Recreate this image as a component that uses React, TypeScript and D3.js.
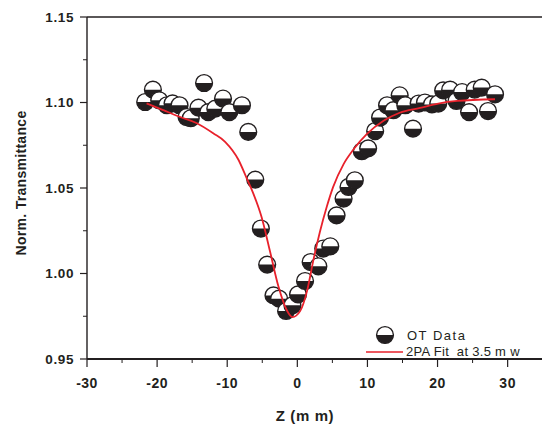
import React from 'react';
import * as d3 from 'd3';

// z position (mm) of each measured point
const zData = [
  -21.7, -20.6, -19.7, -18.6, -17.8, -16.8, -15.8, -15.2, -14.1, -13.3,
  -12.7, -11.7, -10.6, -9.7, -7.9, -7.0, -6.0, -5.2, -4.3, -3.4,
  -2.6, -1.6, -0.7, 0.1, 1.1, 1.9, 3.0, 3.7, 4.7, 5.6,
  6.6, 7.3, 8.2, 9.2, 10.1, 11.1, 11.8, 12.8, 13.7, 14.6,
  15.4, 16.5, 17.3, 18.2, 19.2, 20.1, 20.8, 21.8, 22.7, 23.5,
  24.5, 25.3, 26.3, 27.2, 28.2,
];
// normalized transmittance of each point
const tData = [
  1.1003, 1.1075, 1.1013, 1.0984, 1.0995, 1.0984, 1.0915, 1.0908, 1.097, 1.1114,
  1.0944, 1.0964, 1.1023, 1.0944, 1.0984, 1.0828, 1.0549, 1.0263, 1.0052, 0.9872,
  0.9853, 0.9781, 0.9814, 0.9878, 0.9956, 1.0067, 1.0042, 1.0146, 1.0159, 1.034,
  1.0438, 1.0506, 1.0545, 1.0715, 1.0732, 1.0833, 1.0912, 1.0984, 1.0955, 1.1042,
  1.0984, 1.0847, 1.0994, 1.1, 1.0989, 1.0994, 1.1071, 1.1075, 1.1009, 1.1061,
  1.0944, 1.1075, 1.1087, 1.095, 1.1048,
];

// fit line
const zFit = [
  -21.5, -19.1, -16.7, -14.4, -12.0, -10.3, -8.4, -7.2, -6.3, -5.1,
  -3.9, -2.7, -1.5, -0.7, 0.4, 1.4, 2.3, 3.2, 4.2, 5.1,
  6.6, 8.0, 9.9, 12.3, 14.6, 17.5, 20.1, 22.8, 28.2,
];
const tFit = [
  1.0995, 1.0955, 1.0915, 1.088, 1.082, 1.077, 1.0665, 1.0555, 1.047, 1.033,
  1.013, 0.9925, 0.9785, 0.9745, 0.978, 0.99, 1.008, 1.024, 1.039, 1.0505,
  1.064, 1.0725, 1.0815, 1.0893, 1.094, 1.0968, 1.0994, 1.1009, 1.1019,
];

const xMajor = [-30, -20, -10, 0, 10, 20, 30];
const xMinor = [-25, -15, -5, 5, 15, 25];
const yMajor = [0.95, 1.0, 1.05, 1.1, 1.15];
const yMinor = [0.975, 1.025, 1.075, 1.125];

const W = 542;
const H = 427;
const left = 87;
const top = 17;
const bottom = 359;

const ink = '#231f20';
const font = '"Liberation Sans", Arial, sans-serif';

const Marker = (props: { x: number; y: number }) => {
  const r = 8.4;
  const { x, y } = props;
  return (
    <g transform={`translate(${x},${y})`}>
      <circle r={r} fill="#fff" stroke={ink} strokeWidth={1.4} />
      <path d={`M${-r},0 A${r},${r} 0 0 0 ${r},0 Z`} fill={ink} />
    </g>
  );
};

const App = () => {
  const x = d3.scaleLinear().domain([-30, 34.9]).range([left, W]);
  const y = d3.scaleLinear().domain([0.95, 1.15]).range([bottom, top]);

  const fitLine = d3
    .line<number>()
    .x((d, i) => x(zFit[i]))
    .y((d) => y(d))
    .curve(d3.curveMonotoneX);

  return (
    <svg width={W} height={H} style={{ position: 'absolute', left: 0, top: 0 }} fontFamily={font}>
      <rect width={W} height={H} fill="#fff" />

      {/* frame */}
      <line x1={left} x2={W} y1={top} y2={top} stroke={ink} strokeWidth={1.6} />
      <line x1={left} x2={W} y1={bottom} y2={bottom} stroke={ink} strokeWidth={1.8} />
      <line x1={left} x2={left} y1={top} y2={bottom} stroke={ink} strokeWidth={1.4} />

      {/* y axis */}
      <g fontSize={13.5} fontWeight="bold" fill={ink} textAnchor="end" letterSpacing="0.6">
        {yMajor.map((t) => (
          <g key={t}>
            <line x1={left - 7} x2={left} y1={y(t)} y2={y(t)} stroke={ink} strokeWidth={1.2} />
            <text x={left - 13} y={y(t)} dy="0.35em">{t.toFixed(2)}</text>
          </g>
        ))}
        {yMinor.map((t) => (
          <line key={t} x1={left - 4} x2={left} y1={y(t)} y2={y(t)} stroke={ink} strokeWidth={1} />
        ))}
      </g>

      {/* x axis */}
      <g fontSize={14} fontWeight="bold" fill={ink} textAnchor="middle" letterSpacing="0.5">
        {xMajor.map((t) => (
          <g key={t}>
            <line x1={x(t)} x2={x(t)} y1={bottom} y2={bottom + 8} stroke={ink} strokeWidth={1.2} />
            <text x={x(t)} y={388}>{t}</text>
          </g>
        ))}
        {xMinor.map((t) => (
          <line key={t} x1={x(t)} x2={x(t)} y1={bottom} y2={bottom + 4} stroke={ink} strokeWidth={1} />
        ))}
      </g>

      <text x={305} y={421} fontSize={15} fontWeight="bold" fill={ink} textAnchor="middle" letterSpacing="0.6">
        Z (m m)
      </text>
      <text
        transform="translate(26,183) rotate(-90)"
        fontSize={14}
        fontWeight="bold"
        fill={ink}
        textAnchor="middle"
        letterSpacing="0.3"
      >
        Norm. Transmittance
      </text>

      {/* data */}
      {tData.map((t, i) => (
        <Marker key={i} x={x(zData[i])} y={y(t)} />
      ))}

      <path d={fitLine(tFit) || ''} fill="none" stroke="#e8212b" strokeWidth={1.8} />

      {/* legend */}
      <Marker x={385} y={335} />
      <text x={407} y={340} fontSize={13} fill={ink} letterSpacing="1.5">OT Data</text>
      <line x1={366} x2={403} y1={352} y2={352} stroke="#e8212b" strokeWidth={1.6} />
      <text x={406} y={356} fontSize={13} fill={ink} letterSpacing="0.3" xmlSpace="preserve">
        2PA Fit  at 3.5 m w
      </text>
    </svg>
  );
};

export default App;
